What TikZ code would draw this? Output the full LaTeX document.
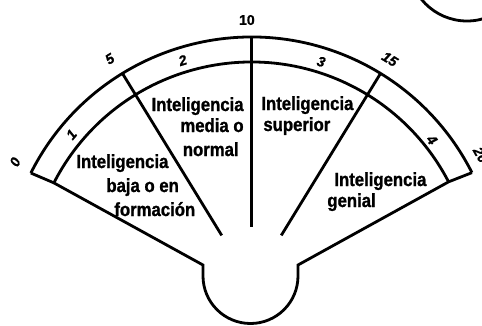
\documentclass[tikz,border=0pt]{standalone}
\usepackage{fontspec}
\setmainfont{Liberation Sans}
\newfontfamily\narrowfont{Liberation Sans}[FakeStretch=0.88, FakeBold=1.2]
\newfontfamily\numfont{Liberation Sans}[FakeBold=1]
\usetikzlibrary{calc}

\begin{document}
\begin{tikzpicture}[x=1pt,y=1pt,line width=2.8pt,
    zone/.style={font=\narrowfont\bfseries\fontsize{19}{19}\selectfont, inner sep=0pt},
    scalenum/.style={font=\numfont\bfseries\itshape\fontsize{14}{14}\selectfont, inner sep=0pt}]
\clip (-251.5,-41) rectangle (230.5,284);
% scale band
\draw (153.3:247) arc[start angle=153.3, end angle=26.8, radius=247];
\draw (152.9:222) arc[start angle=152.9, end angle=27.4, radius=222];
% outline with the handle at the bottom
\draw (153.3:247) -- (152.9:222) -- (-48.5,19) -- (-48.5,8)
    arc[start angle=180, end angle=360, radius=47.5] -- (46.5,19)
    -- (27.4:222) -- (26.8:247);
\foreach \a in {121.5, 90, 58.5} {
    \draw (\a:247) -- (\a:57);
}
% numbers on the scale
\foreach \a/\r/\t in {152.7/266/0, 122.2/266/5, 58.4/264/15, 29.4/263/20,
    140.3/234/1, 107.1/234/2, 72.6/233/3, 38.6/231/4} {
    \node[scalenum, rotate=\a-90] (num\t) at (\a:\r) {\t};
}
\node[scalenum, font=\numfont\bfseries\fontsize{14}{14}\selectfont] (num10) at (91:264) {10};
% zones
\node[zone, anchor=base west] (low1) at (-176.5,116) {Inteligencia};
\node[zone, anchor=base west] (low2) at (-146.5,92) {baja o en};
\node[zone, anchor=base west] (low3) at (-138.5,68) {formación};
\node[zone, anchor=base east] (mid1) at (-6.5,173) {Inteligencia};
\node[zone, anchor=base east] (mid2) at (-6.5,152) {media o};
\node[zone, anchor=base east] (mid3) at (-11.5,128) {normal};
\node[zone, anchor=base west] (sup1) at (8.5,174) {Inteligencia};
\node[zone, anchor=base west] (sup2) at (10.5,153) {superior};
\node[zone, anchor=base west] (gen1) at (81.5,98) {Inteligencia};
\node[zone, anchor=base west] (gen2) at (74.5,77) {genial};
% piece of the next figure
\draw (215.5,321.7) circle[radius=58.7];
\end{tikzpicture}
\end{document}
